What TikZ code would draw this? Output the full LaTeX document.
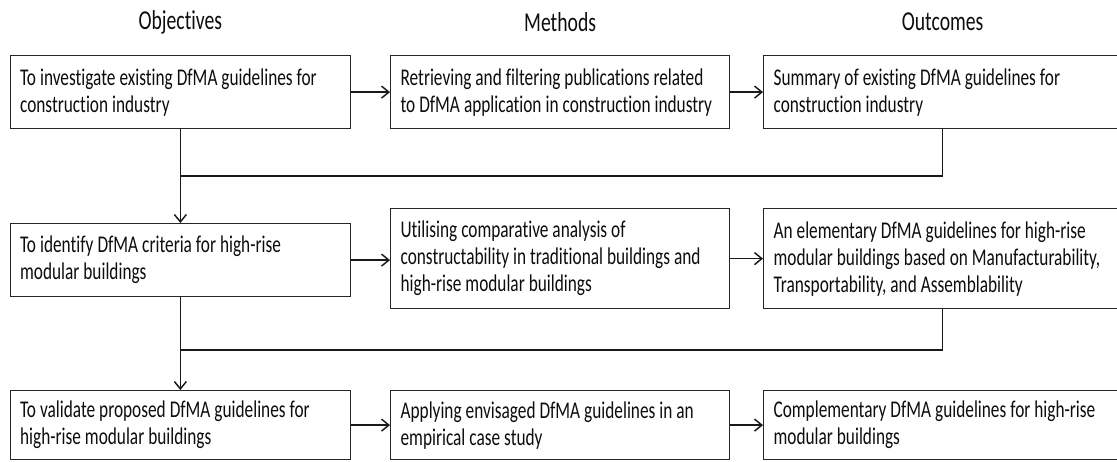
\documentclass[tikz,border=0pt]{standalone}
\usepackage{fontspec}
\setmainfont{Carlito}[FakeStretch=0.72,Ligatures=NoCommon]
\usetikzlibrary{arrows.meta}

\begin{document}
\begin{tikzpicture}[x=0.75pt,y=-0.75pt,
        box/.style={draw=black!85,line width=0.9pt,anchor=north west,inner xsep=7.5pt,
            text=black!95,font=\fontsize{18}{20.25}\selectfont,
            execute at begin node={\spaceskip=3pt plus 1pt minus 0.5pt\rightskip=0pt minus 30pt\hyphenpenalty=10000}},
        obj box/.style={box,minimum width=255.4pt,text width=240.4pt},
        meth box/.style={box,minimum width=254.25pt,text width=239.25pt},
        out box/.style={box,minimum width=268.5pt,text width=253.5pt},
        heading/.style={text=black!95,font=\fontsize{20.5}{22}\selectfont},
        link/.style={draw=black!90,line width=1.1pt},
        arrow/.style={link,-{Straight Barb[length=5.5pt,width=9pt]}}]

    \useasboundingbox (0,0) rectangle (1117,461);
    \clip (0,0) rectangle (1117,461);

    \node[obj box,minimum height=54.75pt] (o1) at (9.5,55) {To investigate existing DfMA guidelines for\\construction industry};
    \node[meth box,minimum height=54.75pt] (m1) at (390,55) {Retrieving and filtering publications related\\to DfMA application in construction industry};
    \node[out box,minimum height=54.75pt] (r1) at (763,55) {Summary of existing DfMA guidelines for\\construction industry};

    \node[obj box,minimum height=54.75pt] (o2) at (9.5,223) {To identify DfMA criteria for high-rise\\modular buildings};
    \node[meth box,minimum height=75pt] (m2) at (390,208) {Utilising comparative analysis of\\constructability in traditional buildings and\\high-rise modular buildings};
    \node[out box,minimum height=75pt] (r2) at (763,208) {An elementary DfMA guidelines for high-rise\\modular buildings based on Manufacturability,\\Transportability, and Assemblability};

    \node[obj box,minimum height=51.75pt] (o3) at (9.5,390) {To validate proposed DfMA guidelines for\\high-rise modular buildings};
    \node[meth box,minimum height=51.75pt] (m3) at (390,390) {Applying envisaged DfMA guidelines in an\\empirical case study};
    \node[out box,minimum height=51.75pt] (r3) at (763,390) {Complementary DfMA guidelines for high-rise\\modular buildings};

    \coordinate (top) at (0,22);
    \node[heading] (hobj) at (o1.north |- top) {Objectives};
    \node[heading] (hmeth) at (m1.north |- top) {Methods};
    \node[heading] (hout) at (r1.north |- top) {Outcomes};

    \draw[arrow] (o1.east) -- (m1.west |- o1.east);
    \draw[arrow] (m1.east) -- (r1.west |- m1.east);
    \draw[arrow] (o2.east) -- (m2.west |- o2.east);
    \draw[arrow] (m2.east) -- (r2.west |- m2.east);
    \draw[arrow] (o3.east) -- (m3.west |- o3.east);
    \draw[arrow] (m3.east) -- (r3.west |- m3.east);

    \coordinate (j1) at (180,176);
    \coordinate (j2) at (180,350);
    \draw[arrow] (o1.south) -- (o2.north);
    \draw[arrow] (o2.south) -- (o3.north);
    \draw[link] (r1.south) |- (j1);
    \draw[link] (r2.south) |- (j2);
\end{tikzpicture}
\end{document}
